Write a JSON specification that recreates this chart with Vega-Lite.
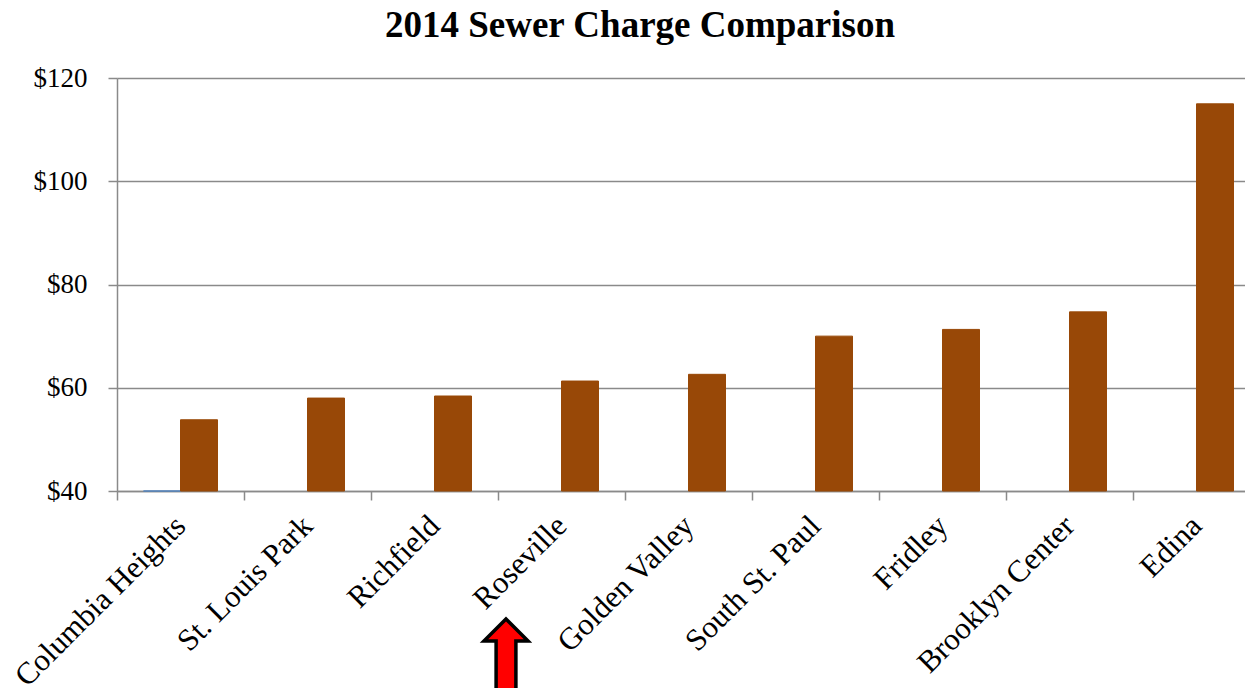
{
  "$schema": "https://vega.github.io/schema/vega-lite/v6.json",
  "autosize": {"type": "none"},
  "padding": {"left": 117, "top": 78, "right": 0, "bottom": 197},
  "width": 1128,
  "height": 413,
  "background": "white",
  "title": {
    "text": "2014 Sewer Charge Comparison",
    "font": "Liberation Serif",
    "fontSize": 37,
    "fontWeight": "bold",
    "color": "black",
    "anchor": "middle",
    "offset": 19,
    "dx": -41
  },
  "config": {
    "view": {"stroke": null},
    "axis": {"labelFont": "Liberation Serif", "labelColor": "black", "labelFontSize": 27, "domainColor": "#8a8a8a", "tickColor": "#8a8a8a", "gridColor": "#8a8a8a", "domainWidth": 1.5, "tickWidth": 1.5, "gridWidth": 1.5}
  },
  "datasets": {
    "charges": [
      {"city": "Columbia Heights", "series": "other", "value": 40},
      {"city": "Columbia Heights", "series": "2014", "value": 53.8},
      {"city": "St. Louis Park", "series": "2014", "value": 58.0},
      {"city": "Richfield", "series": "2014", "value": 58.4},
      {"city": "Roseville", "series": "2014", "value": 61.3},
      {"city": "Golden Valley", "series": "2014", "value": 62.6},
      {"city": "South St. Paul", "series": "2014", "value": 70.0},
      {"city": "Fridley", "series": "2014", "value": 71.3},
      {"city": "Brooklyn Center", "series": "2014", "value": 74.7},
      {"city": "Edina", "series": "2014", "value": 115.0}
    ],
    "marker": [{"city": "Roseville"}]
  },
  "layer": [
    {
      "data": {"name": "charges"},
      "mark": {"type": "bar", "strokeWidth": 1},
      "encoding": {
        "x": {
          "field": "city", "type": "nominal", "title": null,
          "sort": ["Columbia Heights", "St. Louis Park", "Richfield", "Roseville", "Golden Valley", "South St. Paul", "Fridley", "Brooklyn Center", "Edina"],
          "scale": {"paddingInner": 0, "paddingOuter": 0, "range": [0, 1143]},
          "axis": {"labelAngle": -45, "labelAlign": "right", "labelBaseline": "middle", "labelPadding": 21, "labelLimit": 0, "labelFontSize": 31, "tickBand": "extent", "tickSize": 9, "grid": false}
        },
        "xOffset": {"field": "series", "type": "nominal", "scale": {"domain": ["other", "2014"], "paddingInner": 0, "paddingOuter": 0.716}},
        "y": {
          "field": "value", "type": "quantitative", "title": null,
          "scale": {"domain": [40, 120], "zero": false, "nice": false},
          "axis": {"values": [40, 60, 80, 100, 120], "labelExpr": "'$' + datum.value", "tickSize": 9, "labelPadding": 21, "grid": true}
        },
        "y2": {"datum": 40},
        "color": {"field": "series", "type": "nominal", "scale": {"domain": ["other", "2014"], "range": ["#4F81BD", "#984807"]}, "legend": null},
        "stroke": {"field": "series", "type": "nominal", "scale": {"domain": ["other", "2014"], "range": ["#4F81BD", "#984807"]}, "legend": null}
      }
    },
    {
      "data": {"name": "marker"},
      "mark": {"type": "point", "filled": true, "fill": "#ff0000", "stroke": "black", "strokeWidth": 3.5, "opacity": 1, "shape": "M0,-1 L0.49,-0.51 L0.22,-0.51 L0.22,1 L-0.22,1 L-0.22,-0.51 L-0.49,-0.51 Z", "size": 8100},
      "encoding": {
        "x": {"field": "city", "type": "nominal", "bandPosition": 0.063,
          "sort": ["Columbia Heights", "St. Louis Park", "Richfield", "Roseville", "Golden Valley", "South St. Paul", "Fridley", "Brooklyn Center", "Edina"]},
        "y": {"datum": 6.5, "type": "quantitative"}
      }
    }
  ]
}
